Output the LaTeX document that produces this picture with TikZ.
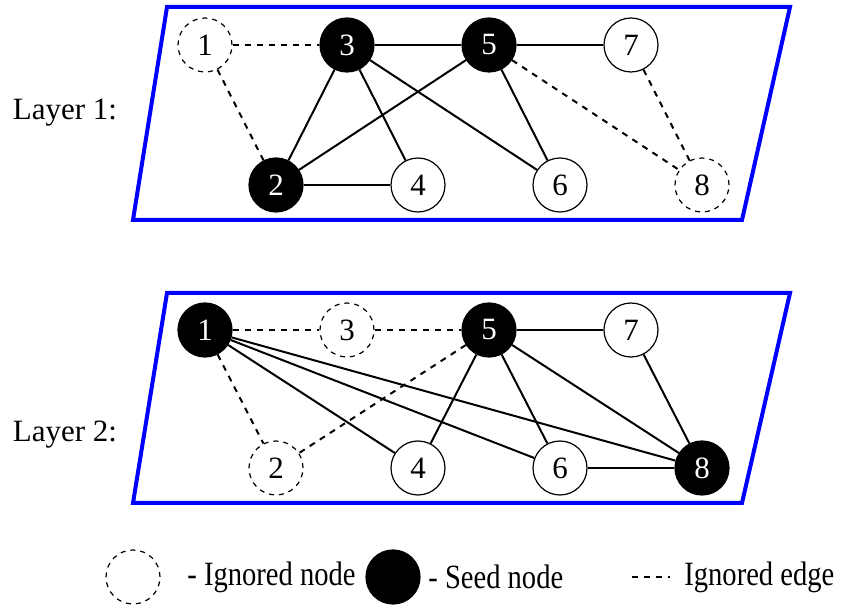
\documentclass[tikz,border=0pt]{standalone}
\usepackage{fontspec}
\setmainfont{Liberation Serif}
\newfontfamily\keyfont{Liberation Serif}[FakeStretch=0.84]

\begin{document}
\begin{tikzpicture}[x=0.5pt,y=-0.5pt,font=\fontsize{15.5}{18}\selectfont]
    \tikzstyle{vertex}=[circle,draw=black,line width=0.6pt,minimum size=27pt,inner sep=0pt]
    \tikzstyle{plain}=[vertex,fill=white];
    \tikzstyle{seed}=[vertex,fill=black,text=white];
    \tikzstyle{ignored}=[vertex,dashed,dash pattern=on 2.5pt off 2.5pt];
    \tikzstyle{layer}=[draw=blue,line width=2pt,line join=miter];
    \tikzstyle{link}=[line width=1pt];
    \tikzstyle{cut}=[link,dash pattern=on 3pt off 3pt];
    \tikzstyle{key}=[anchor=west,inner xsep=0pt,font=\keyfont\fontsize{17}{20}\selectfont];

    \useasboundingbox (0,0) rectangle (842,609);

    % Layer frames
    \draw[layer] (167,7) -- (790,7) -- (742,220) -- (133,220) -- cycle;
    \draw[layer] (167,293) -- (790,293) -- (742,503) -- (133,503) -- cycle;
    \node (L1) at (65,113) {Layer 1:};
    \node (L2) at (65,435) {Layer 2:};

    % Layer 1 nodes
    \node[ignored] (A-1) at (205,45) {1};
    \node[seed]    (A-3) at (347,45) {3};
    \node[seed]    (A-5) at (489,45) {5};
    \node[plain]   (A-7) at (631,45) {7};
    \node[seed]    (A-2) at (276,185) {2};
    \node[plain]   (A-4) at (418,185) {4};
    \node[plain]   (A-6) at (560,185) {6};
    \node[ignored] (A-8) at (702,185) {8};

    % Layer 1 edges
    \foreach \source / \dest in {3/5,5/7,3/2,3/4,3/6,5/2,5/6,2/4}
        \draw[link] (A-\source) -- (A-\dest);
    \foreach \source / \dest in {1/3,1/2,5/8,7/8}
        \draw[cut] (A-\source) -- (A-\dest);

    % Layer 2 nodes
    \node[seed]    (B-1) at (205,330) {1};
    \node[ignored] (B-3) at (347,330) {3};
    \node[seed]    (B-5) at (489,330) {5};
    \node[plain]   (B-7) at (631,330) {7};
    \node[ignored] (B-2) at (276,468) {2};
    \node[plain]   (B-4) at (418,468) {4};
    \node[plain]   (B-6) at (560,468) {6};
    \node[seed]    (B-8) at (702,468) {8};

    % Layer 2 edges
    \foreach \source / \dest in {1/4,1/6,1/8,5/4,5/6,5/8,5/7,7/8,6/8}
        \draw[link] (B-\source) -- (B-\dest);
    \foreach \source / \dest in {1/3,3/5,1/2,5/2}
        \draw[cut] (B-\source) -- (B-\dest);

    % Legend
    \node[ignored] (key-ign) at (133,577) {};
    \node[key] (key-ign-txt) at (187,577) {- Ignored node};
    \node[seed] (key-seed) at (393,577) {};
    \node[key] (key-seed-txt) at (428,577) {- Seed node};
    \coordinate (key-a) at (632,577);
    \coordinate (key-b) at (670,577);
    \draw[cut,line width=0.8pt] (key-a) -- (key-b);
    \node[key] (key-cut-txt) at (684,577) {Ignored edge};
\end{tikzpicture}
\end{document}
